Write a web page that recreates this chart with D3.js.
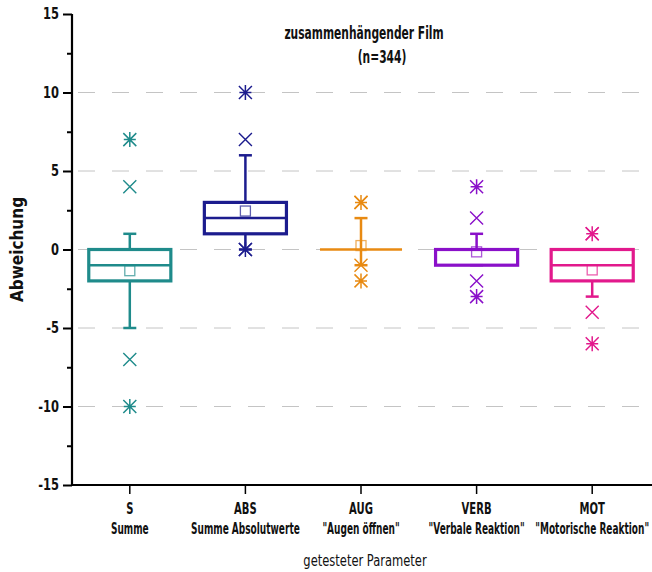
<!DOCTYPE html>
<html>
<head>
<meta charset="utf-8">
<script src="https://cdn.jsdelivr.net/npm/d3@7"></script>
<style>
  html, body { margin: 0; padding: 0; background: #fff; }
  svg text { font-family: 'DejaVu Sans Condensed', 'Liberation Sans Narrow', sans-serif; }
</style>
</head>
<body>
<svg id="chart" width="652" height="572"></svg>
<script>
// ---- data ----
const categories = ["S", "ABS", "AUG", "VERB", "MOT"];
const subLabels = ["Summe", "Summe Absolutwerte", "\"Augen öffnen\"", "\"Verbale Reaktion\"", "\"Motorische Reaktion\""];
const colors = ["#1f8b8b", "#1c1c8e", "#e88a12", "#8a10c9", "#e2198c"];
const q1 = [-2, 1, 0, -1, -2];
const median = [-1, 2, 0, 0, -1];
const q3 = [0, 3, 0, 0, 0];
const mean = [-1.35, 2.45, 0.25, -0.15, -1.3];
const whiskerLow = [-5, 0, -1, -1, -3];
const whiskerHigh = [1, 6, 2, 1, 0];
const crossLow = [-7, 0, -1, -2, -4];
const crossHigh = [4, 7, 3, 2, 1];
const minVal = [-10, 0, -2, -3, -6];
const maxVal = [7, 10, 3, 4, 1];
const yTicks = [-15, -10, -5, 0, 5, 10, 15];
const yMinorTicks = [-12.5, -7.5, -2.5, 2.5, 7.5, 12.5];
const gridValues = [-10, -5, 0, 5, 10];
const titleLines = ["zusammenhängender Film", "(n=344)"];
const yLabel = "Abweichung";
const xLabel = "getesteter Parameter";

(function () {
const FONT = "'DejaVu Sans Condensed', 'Liberation Sans Narrow', sans-serif";
const svg = d3.select("#chart");
const pL = 72, pR = 650, pT = 14, pB = 485;

const x = d3.scaleBand().domain(categories).range([pL, pR]).padding(0);
const y = d3.scaleLinear().domain([-15, 15]).range([pB, pT]);

// grid lines
svg.append("g").selectAll("line").data(gridValues).join("line")
  .attr("x1", pL + 6).attr("x2", pR)
  .attr("y1", d => y(d)).attr("y2", d => y(d))
  .attr("stroke", "#c4c4c4").attr("stroke-width", 1)
  .attr("stroke-dasharray", "17 17");

// title (two lines, second line slightly offset to the right as in the original)
const titleX = [364, 382];
svg.append("g").selectAll("text").data(titleLines).join("text")
  .attr("transform", (d, i) => `translate(${titleX[i]},${39 + i * 24}) scale(0.7,1)`)
  .attr("text-anchor", "middle")
  .attr("font-size", 17).attr("font-weight", "bold").attr("fill", "#111")
  .text(d => d);

// boxes
const boxW = x.bandwidth() * 0.71;
const capW = 13;
const g = svg.append("g");
categories.forEach((c, i) => {
  const cx = x(c) + x.bandwidth() / 2;
  const col = colors[i];
  const grp = g.append("g");
  grp.append("line").attr("x1", cx).attr("x2", cx)
    .attr("y1", y(q3[i])).attr("y2", y(whiskerHigh[i]))
    .attr("stroke", col).attr("stroke-width", 2.5);
  grp.append("line").attr("x1", cx).attr("x2", cx)
    .attr("y1", y(q1[i])).attr("y2", y(whiskerLow[i]))
    .attr("stroke", col).attr("stroke-width", 2.5);
  [whiskerHigh[i], whiskerLow[i]].forEach(v => {
    grp.append("line").attr("x1", cx - capW / 2).attr("x2", cx + capW / 2)
      .attr("y1", y(v)).attr("y2", y(v))
      .attr("stroke", col).attr("stroke-width", 2.5);
  });
  grp.append("rect")
    .attr("x", cx - boxW / 2).attr("width", boxW)
    .attr("y", y(q3[i])).attr("height", Math.max(0, y(q1[i]) - y(q3[i])))
    .attr("fill", "none").attr("stroke", col).attr("stroke-width", 3.2);
  grp.append("line").attr("x1", cx - boxW / 2).attr("x2", cx + boxW / 2)
    .attr("y1", y(median[i])).attr("y2", y(median[i]))
    .attr("stroke", col).attr("stroke-width", 2.5);
  grp.append("rect")
    .attr("x", cx - 5).attr("y", y(mean[i]) - 5)
    .attr("width", 10).attr("height", 10)
    .attr("fill", "none").attr("stroke", col).attr("stroke-opacity", 0.7).attr("stroke-width", 1.3);
  [crossLow[i], crossHigh[i]].forEach(v => {
    const py = y(v), s = 6.5;
    grp.append("path")
      .attr("d", `M${cx - s},${py - s}L${cx + s},${py + s}M${cx - s},${py + s}L${cx + s},${py - s}`)
      .attr("stroke", col).attr("stroke-width", 1.4).attr("fill", "none");
  });
  [minVal[i], maxVal[i]].forEach(v => {
    const py = y(v), s = 6.5;
    grp.append("path")
      .attr("d", `M${cx - s},${py - s}L${cx + s},${py + s}M${cx - s},${py + s}L${cx + s},${py - s}M${cx},${py - 7.5}L${cx},${py + 7.5}M${cx - 6},${py}L${cx + 6},${py}`)
      .attr("stroke", col).attr("stroke-width", 1.5).attr("fill", "none");
  });
});

// y axis
const yAxis = d3.axisLeft(y).tickValues(yTicks).tickSize(9).tickPadding(4).tickFormat(d => String(d));
const ya = svg.append("g").attr("transform", `translate(${pL},0)`).call(yAxis);
ya.select(".domain").attr("stroke-width", 2.2).attr("d", `M0,${pT}V${pB}`);
ya.selectAll(".tick line").attr("stroke-width", 2);
ya.selectAll(".tick text").attr("font-size", 15).attr("font-weight", "bold").attr("fill", "#111")
  .attr("font-family", FONT).attr("transform", "translate(-13,0) scale(0.85,1)").attr("x", 0);
const yMinor = d3.axisLeft(y).tickValues(yMinorTicks).tickSize(5).tickFormat("");
const ym = svg.append("g").attr("transform", `translate(${pL},0)`).call(yMinor);
ym.select(".domain").remove();
ym.selectAll(".tick line").attr("stroke-width", 2);

// x axis
const xAxis = d3.axisBottom(x).tickSize(9).tickPadding(9);
const xa = svg.append("g").attr("transform", `translate(0,${pB})`).call(xAxis);
xa.select(".domain").attr("stroke-width", 2.2).attr("d", `M${pL},0H${pR + 2}`);
xa.selectAll(".tick line").attr("stroke-width", 1.5);
xa.selectAll(".tick text").attr("font-size", 15.5).attr("font-weight", "bold").attr("fill", "#111")
  .attr("font-family", FONT).attr("transform", "scale(0.72,1)");
xa.selectAll(".tick").append("text")
  .attr("y", 49).attr("fill", "#111")
  .attr("font-size", 15.5).attr("font-weight", "bold")
  .attr("font-family", FONT)
  .attr("text-anchor", "middle")
  .attr("transform", "scale(0.645,1)")
  .text((d, i) => subLabels[i]);

// axis labels
svg.append("text")
  .attr("transform", `translate(23,${(pT + pB) / 2}) rotate(-90)`)
  .attr("text-anchor", "middle")
  .attr("font-size", 17).attr("font-weight", "bold").attr("fill", "#111")
  .text(yLabel);
svg.append("text")
  .attr("transform", `translate(${(pL + pR) / 2 + 4},566) scale(0.8,1)`)
  .attr("text-anchor", "middle")
  .attr("font-size", 16).attr("fill", "#111")
  .text(xLabel);
})();
</script>
</body>
</html>
